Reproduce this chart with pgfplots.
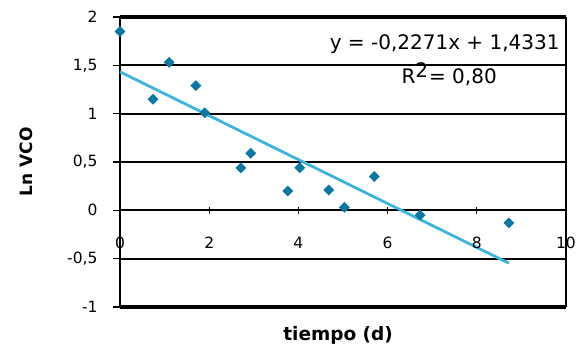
\documentclass[border=0pt]{standalone}
\usepackage{pgfplots}
\pgfplotsset{compat=1.18}
\usepackage{fontspec}
\setmainfont{DejaVu Sans}
\definecolor{mk}{HTML}{0A78A0}
\definecolor{tl}{HTML}{3DB4E0}
\begin{document}
\begin{tikzpicture}
\useasboundingbox (0,0) rectangle (582pt,345pt);
\begin{axis}[
  at={(120pt,38pt)}, anchor=south west,
  scale only axis, width=446pt, height=290pt,
  xmin=0, xmax=10, ymin=-1, ymax=2,
  axis x line=none, axis y line*=left,
  axis line style={black, line width=2pt, -},
  ytick={-1,-0.5,0,0.5,1,1.5,2},
  yticklabels={-1,{-0,5},0,{0,5},1,{1,5},2},
  ymajorgrids, major grid style={black, line width=1.8pt},
  y tick style={black, line width=1.6pt}, ytick align=outside, major tick length=7pt,
  every y tick label/.append style={font=\fontsize{15.5}{17}\selectfont, anchor=east, xshift=-12pt},
  ylabel={\textbf{Ln VCO}},
  ylabel style={at={(axis description cs:-0.21,0.5)}, anchor=center, font=\fontsize{17}{19}\selectfont},
  clip=false,
]
\draw[black, line width=2.4pt] (axis cs:10,-1) -- (axis cs:10,2);
\draw[black, line width=3.2pt] (axis cs:0,2) -- (axis cs:10,2);
\draw[black, line width=3.2pt] (axis cs:0,-1) -- (axis cs:10,-1);
\addplot[only marks, mark=square*, mark size=3.6pt, mark options={fill=mk, draw=mk, rotate=45}] coordinates {
(0,1.85) (0.74,1.15) (1.10,1.53) (1.70,1.29) (1.90,1.01) (2.71,0.44) (2.93,0.59)
(3.76,0.20) (4.03,0.44) (4.68,0.21) (5.03,0.03) (5.70,0.35) (6.73,-0.05) (8.72,-0.13)
};
\addplot[tl, line width=2.8pt] coordinates {(0,1.4331) (8.72,-0.5472)};
\node[font=\fontsize{20}{22}\selectfont] at (axis cs:7.28,1.717) {y = -0,2271x + 1,4331};
\node[font=\fontsize{20}{22}\selectfont] at (axis cs:7.38,1.405) {R\raisebox{0.3em}{2}\kern1pt= 0,80};
\end{axis}
\begin{axis}[
  at={(120pt,38pt)}, anchor=south west,
  scale only axis, width=446pt, height=290pt,
  xmin=0, xmax=10, ymin=-1, ymax=2,
  axis x line=middle, axis y line=none,
  hide obscured x ticks=false,
  axis line style={draw=none},
  xtick={0,2,4,6,8,10}, xticklabels={0,2,4,6,8,10},
  x tick style={black, line width=1.2pt}, xtick align=center, major tick length=7pt,
  xticklabel style={yshift=-20pt, font=\fontsize{15.5}{17}\selectfont},
  xlabel={\textbf{tiempo (d)}},
  xlabel style={at={(axis description cs:0.489,-0.097)}, anchor=center, font=\fontsize{18.5}{20}\selectfont},
  clip=false,
]
\addplot[draw=none] coordinates {(0,0)};
\end{axis}
\end{tikzpicture}
\end{document}
